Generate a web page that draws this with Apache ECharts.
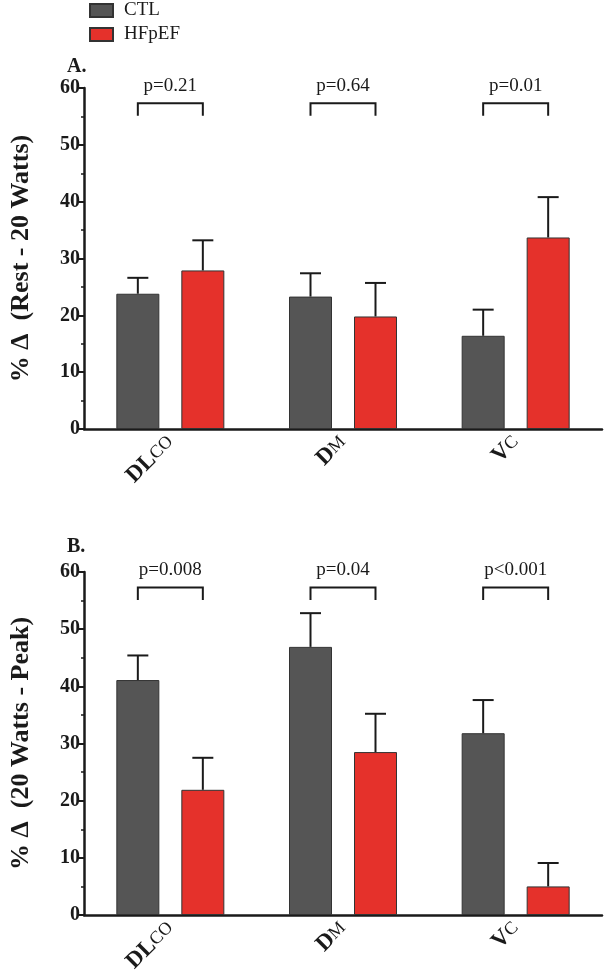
<!DOCTYPE html>
<html>
<head>
<meta charset="utf-8">
<script src="https://cdn.jsdelivr.net/npm/echarts@6/dist/echarts.min.js"></script>
<style>
  html, body { margin: 0; padding: 0; background: #fff; }
  #chart { width: 608px; height: 978px; }
</style>
</head>
<body>
<div id="chart"></div>
<script>
// categories and values
const categories = ['DLCO', 'DM', 'VC'];
const yTicks = [0, 10, 20, 30, 40, 50, 60];

const ctlA = [23.8, 23.3, 16.4];
const ctlAErr = [26.6, 27.4, 21.0];
const hfA = [27.9, 19.8, 33.7];
const hfAErr = [33.2, 25.7, 40.8];
const pA = ['p=0.21', 'p=0.64', 'p=0.01'];

const ctlB = [41.1, 46.9, 31.8];
const ctlBErr = [45.4, 52.8, 37.6];
const hfB = [21.9, 28.5, 5.0];
const hfBErr = [27.5, 35.2, 9.1];
const pB = ['p=0.008', 'p=0.04', 'p<0.001'];

const bracketTop = 57.3, bracketBottom = 55.1, pLabelY = 60.3;

const SERIF = 'Liberation Serif';
const INK = '#1a1a1a';
const GREY = '#555555';
const RED = '#e5312b';
const BAR_W = 43;
const GAP = 22;
const OFFSET = (BAR_W + GAP) / 2;

let myChart = echarts.init(document.getElementById('chart'));

function xAxisFor(gridIndex) {
    return {
        type: 'category',
        gridIndex: gridIndex,
        data: categories,
        axisLine: { lineStyle: { color: INK, width: 2.5 } },
        axisTick: { alignWithLabel: true, length: 5, lineStyle: { color: INK, width: 2 } },
        axisLabel: {
            rotate: 45,
            margin: 10,
            formatter: function (v) {
                if (v === 'DLCO') return '{b|DL}{s|CO}';
                if (v === 'DM') return '{b|D}{s|M}';
                return '{b|V}{s|C}';
            },
            rich: {
                b: { fontFamily: SERIF, fontWeight: 'bold', fontSize: 23, color: INK },
                s: { fontFamily: SERIF, fontSize: 18, color: INK }
            }
        }
    };
}

function yAxisFor(gridIndex, title) {
    return {
        type: 'value',
        gridIndex: gridIndex,
        min: yTicks[0],
        max: yTicks[yTicks.length - 1],
        interval: 10,
        name: title,
        nameLocation: 'middle',
        nameGap: 50,
        nameTextStyle: { fontFamily: SERIF, fontWeight: 'bold', fontSize: 26, color: INK },
        axisLine: { show: true, lineStyle: { color: INK, width: 2.5 } },
        axisTick: { show: true, length: 5, lineStyle: { color: INK, width: 2 } },
        minorTick: { show: true, splitNumber: 2, length: 3, lineStyle: { color: INK, width: 1.5 } },
        splitLine: { show: false },
        axisLabel: { fontFamily: SERIF, fontWeight: 'bold', fontSize: 20, color: INK, margin: 4 }
    };
}

function barSeries(name, data, color, idx) {
    return {
        name: name,
        type: 'bar',
        xAxisIndex: idx,
        yAxisIndex: idx,
        data: data,
        barWidth: BAR_W,
        barGap: (GAP / BAR_W * 100) + '%',
        itemStyle: { color: color, borderColor: '#333', borderWidth: 1 },
        z: 2
    };
}

function errorSeries(means, tops, side, idx) {
    let data = means.map((m, i) => [i, m, tops[i]]);
    return {
        type: 'custom',
        xAxisIndex: idx,
        yAxisIndex: idx,
        data: data,
        z: 3,
        silent: true,
        renderItem: function (params, api) {
            let base = api.coord([api.value(0), api.value(1)]);
            let top = api.coord([api.value(0), api.value(2)]);
            let x = base[0] + side * OFFSET;
            return {
                type: 'group',
                children: [
                    { type: 'line', shape: { x1: x, y1: base[1], x2: x, y2: top[1] }, style: { stroke: INK, lineWidth: 2 } },
                    { type: 'line', shape: { x1: x - 10.5, y1: top[1], x2: x + 10.5, y2: top[1] }, style: { stroke: INK, lineWidth: 2 } }
                ]
            };
        }
    };
}

function bracketSeries(labels, idx) {
    let data = labels.map((p, i) => [i, bracketTop, bracketBottom, pLabelY]);
    return {
        type: 'custom',
        xAxisIndex: idx,
        yAxisIndex: idx,
        data: data,
        clip: false,
        silent: true,
        z: 3,
        renderItem: function (params, api) {
            let c = api.coord([api.value(0), api.value(1)]);
            let b = api.coord([api.value(0), api.value(2)]);
            let t = api.coord([api.value(0), api.value(3)]);
            let x1 = c[0] - OFFSET, x2 = c[0] + OFFSET;
            return {
                type: 'group',
                children: [
                    {
                        type: 'polyline',
                        shape: { points: [[x1, b[1]], [x1, c[1]], [x2, c[1]], [x2, b[1]]] },
                        style: { stroke: INK, lineWidth: 2, fill: null }
                    },
                    {
                        type: 'text',
                        x: c[0],
                        y: t[1],
                        style: {
                            text: labels[params.dataIndex],
                            fontFamily: SERIF,
                            fontSize: 19,
                            fill: INK,
                            align: 'center',
                            verticalAlign: 'middle'
                        }
                    }
                ]
            };
        }
    };
}

let option = {
    animation: false,
    backgroundColor: '#fff',
    legend: {
        data: ['CTL', 'HFpEF'],
        orient: 'vertical',
        left: 89,
        top: 1,
        padding: 0,
        itemWidth: 23,
        itemHeight: 13,
        itemGap: 5,
        icon: 'rect',
        textStyle: { fontFamily: SERIF, fontSize: 19, color: INK, padding: [0, 0, 0, 6] }
    },
    title: [
        { text: 'A.', left: 62, top: 52, textStyle: { fontFamily: SERIF, fontWeight: 'bold', fontSize: 20, color: INK } },
        { text: 'B.', left: 62, top: 532, textStyle: { fontFamily: SERIF, fontWeight: 'bold', fontSize: 20, color: INK } }
    ],
    grid: [
        { left: 82, top: 88, width: 520, height: 341 },
        { left: 82, top: 572, width: 520, height: 343 }
    ],
    xAxis: [xAxisFor(0), xAxisFor(1)],
    yAxis: [
        yAxisFor(0, '% \u0394  (Rest - 20 Watts)'),
        yAxisFor(1, '% \u0394  (20 Watts - Peak)')
    ],
    series: [
        barSeries('CTL', ctlA, GREY, 0),
        barSeries('HFpEF', hfA, RED, 0),
        errorSeries(ctlA, ctlAErr, -1, 0),
        errorSeries(hfA, hfAErr, 1, 0),
        bracketSeries(pA, 0),
        barSeries('CTL', ctlB, GREY, 1),
        barSeries('HFpEF', hfB, RED, 1),
        errorSeries(ctlB, ctlBErr, -1, 1),
        errorSeries(hfB, hfBErr, 1, 1),
        bracketSeries(pB, 1)
    ]
};
myChart.setOption(option);
</script>
</body>
</html>
